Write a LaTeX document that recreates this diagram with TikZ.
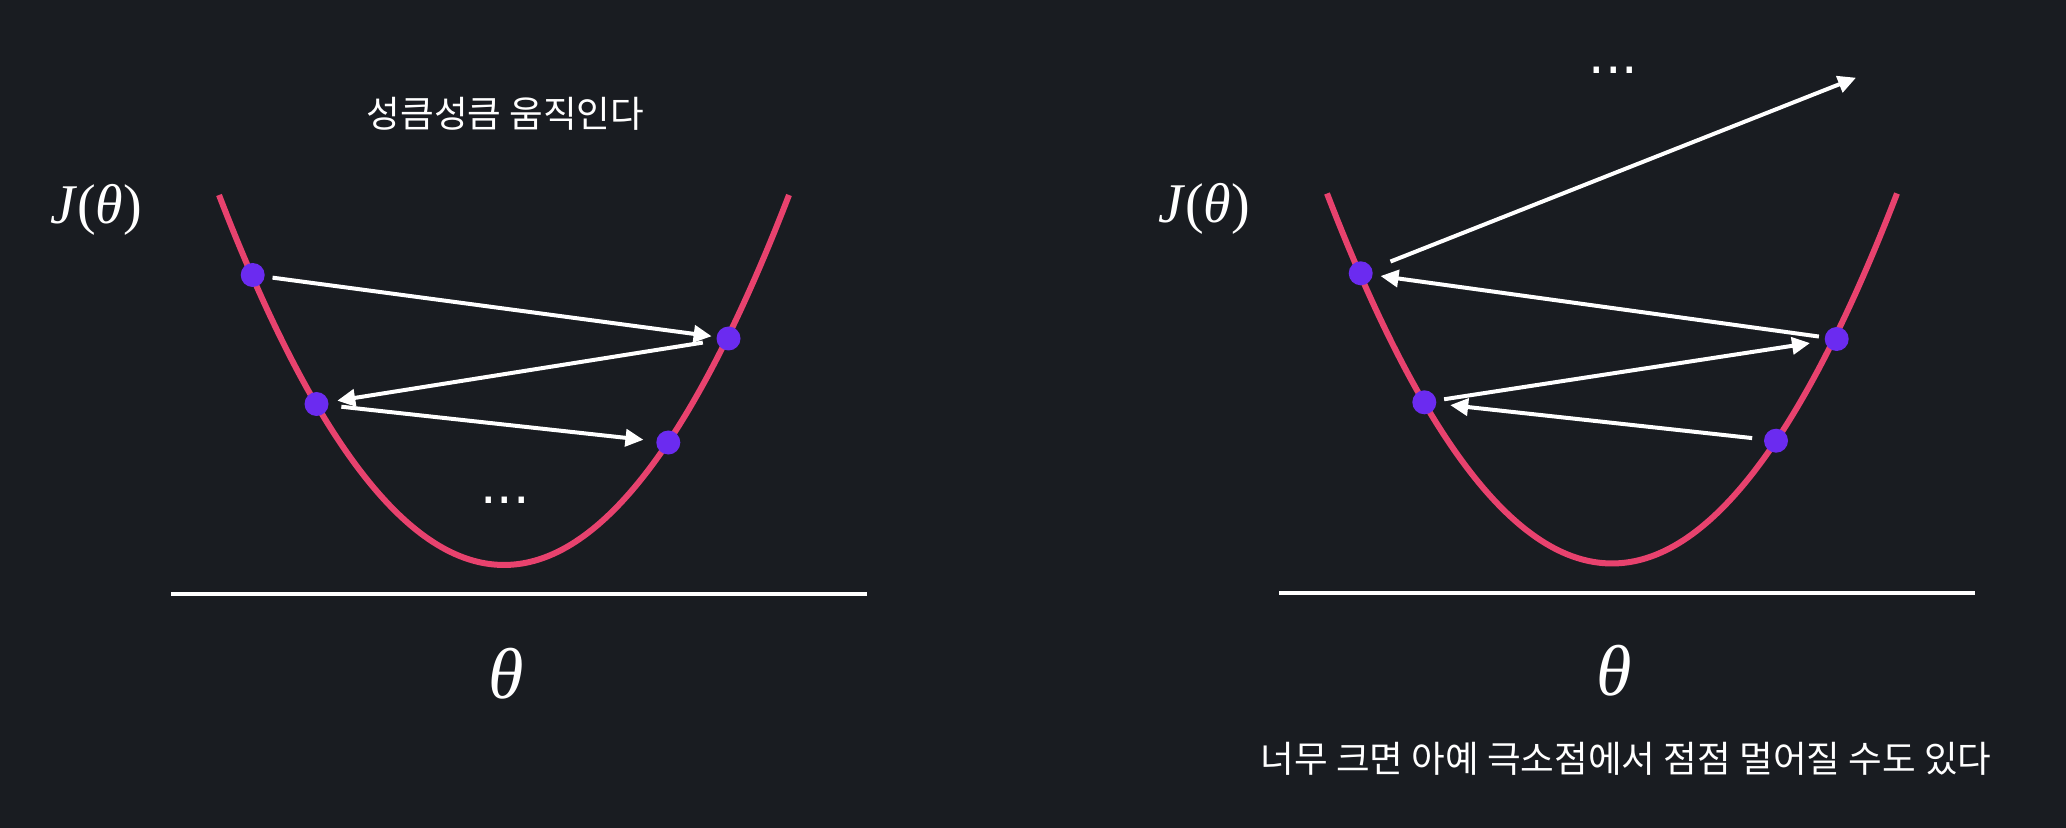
\documentclass[tikz,border=0pt]{standalone}
\usepackage{fontspec}
\usepackage{graphicx}
\usetikzlibrary{arrows.meta}
\newfontfamily\krfont{Noto Sans CJK KR}
\newfontfamily\serffont{Liberation Serif}
\newfontfamily\dvfont{DejaVu Sans}
\definecolor{bgc}{HTML}{191C21}
\definecolor{curvec}{HTML}{E8426E}
\definecolor{dotc}{HTML}{6B2BF0}
\tikzset{
  curveline/.style={curvec, line width=3pt},
  axisline/.style={white, line width=2pt},
  ptdot/.style={circle, fill=dotc, inner sep=0pt, minimum size=12pt},
  steparrow/.style={white, line width=2pt, -{Triangle[length=9pt,width=8.5pt]}},
  krlabel/.style={text=white, inner sep=0pt, font=\krfont\fontsize{18.3}{22}\selectfont},
  mathlabel/.style={text=white, inner sep=0pt, anchor=base, font=\serffont\fontsize{28}{32}\selectfont},
  thetalabel/.style={text=white, inner sep=0pt, anchor=base, font=\serffont\fontsize{36}{40}\selectfont},
  dotslabel/.style={text=white, inner sep=0pt, font=\dvfont\fontsize{26}{30}\selectfont},
}
\begin{document}
\begin{tikzpicture}[x=0.5pt,y=-0.5pt]
\fill[bgc] (0,0) rectangle (2066,828);
\useasboundingbox (0,0) rectangle (2066,828);

% ---------- left panel ----------
\node[krlabel] (titleL) at (505.5,113.5) {성큼성큼 움직인다};
\node[mathlabel] (JL) at (96,224) {\textit{J}(\textit{θ})};
\draw[curveline] (219,195) .. controls (409,688.3) and (599,688.3) .. (789,195);
\draw[axisline] (171,594) -- (867,594);
\node[thetalabel] (thL) at (506,698) {\textit{θ}};
\node[dotslabel] (ellL) at (505,500) {...};
\node[ptdot] (p1) at (252.7,275) {};
\node[ptdot] (p2) at (728.5,338.5) {};
\node[ptdot] (p3) at (316.5,404) {};
\node[ptdot] (p4) at (668.3,442.5) {};
\draw[steparrow, shorten <=10pt, shorten >=8.5pt] (p1.center) -- (p2.center);
\draw[steparrow, shorten <=13pt, shorten >=10.5pt] (p2.center) -- (p3.center);
\draw[steparrow, shorten <=12.5pt, shorten >=12.5pt] (p3.center) -- (p4.center);

% ---------- right panel ----------
\begin{scope}[shift={(1108,-1.5)}]
\node[mathlabel] (JR) at (96,224) {\textit{J}(\textit{θ})};
\draw[curveline] (219,195) .. controls (409,688.3) and (599,688.3) .. (789,195);
\draw[axisline] (171,594) -- (867,594);
\node[thetalabel] (thR) at (506,697) {\textit{θ}};
\node[dotslabel] (ellR) at (505.3,72.2) {...};
\node[ptdot] (q1) at (252.7,274.8) {};
\node[ptdot] (q2) at (728.7,340.5) {};
\node[ptdot] (q3) at (316.3,403.8) {};
\node[ptdot] (q4) at (668,442.2) {};
\coordinate (qout) at (748,79.2);
\draw[steparrow, shorten <=12pt, shorten >=13pt] (q4.center) -- (q3.center);
\draw[steparrow, shorten <=10pt, shorten >=13.5pt] (q3.center) -- (q2.center);
\draw[steparrow, shorten <=9pt, shorten >=10pt] (q2.center) -- (q1.center);
\draw[steparrow, shorten <=16pt] (q1.center) -- (qout);
\end{scope}
\node[krlabel] (titleR) at (1626,759) {너무 크면 아예 극소점에서 점점 멀어질 수도 있다};
\end{tikzpicture}
\end{document}
